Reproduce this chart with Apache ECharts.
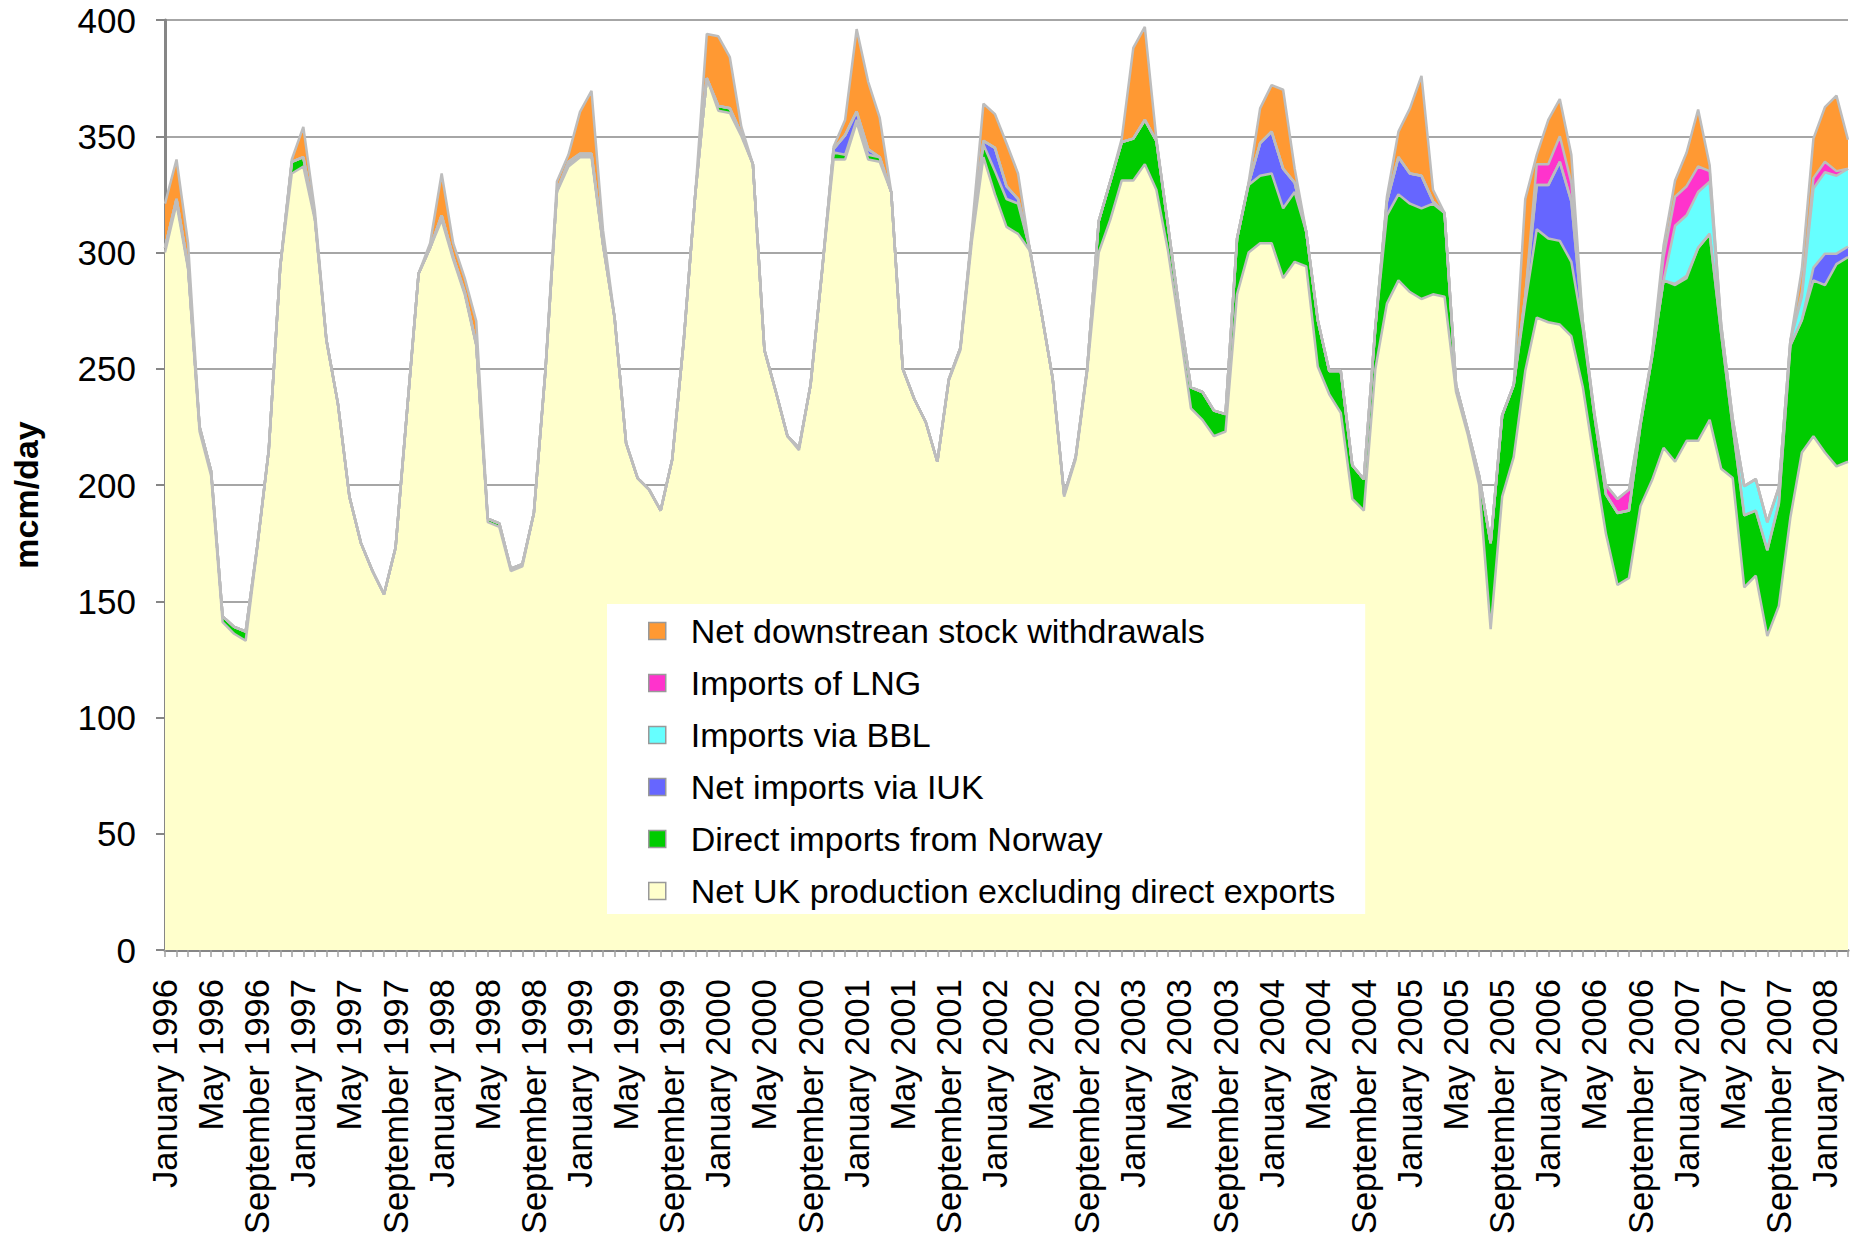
<!DOCTYPE html>
<html>
<head>
<meta charset="utf-8">
<script src="https://cdn.jsdelivr.net/npm/echarts@6/dist/echarts.min.js"></script>
<style>
html,body{margin:0;padding:0;background:#ffffff;}
#chart{width:1856px;height:1240px;}
</style>
</head>
<body>
<div id="chart"></div>
<script>
// ---- categories (monthly, January 1996 .. March 2008) ----
const monthNames = ['January','February','March','April','May','June','July','August','September','October','November','December'];
const firstYear = 1996;
const pointCount = 147;
const categories = [];
for (let i = 0; i < pointCount; i++) {
  categories.push(monthNames[i % 12] + ' ' + (firstYear + Math.floor(i / 12)));
}

// ---- y axis ticks ----
const yMin = 0, yMax = 400, yStep = 50;

// ---- series values (mcm/day) ----
const ukProduction = [
  300,321,293,223,204,141,136,133,173,215,294,334,
  337,314,262,235,195,175,163,153,173,232,291,302,
  314,297,282,260,184,182,163,165,188,249,326,337,
  341,341,303,272,218,203,198,189,211,262,325,375,
  361,360,350,338,258,240,221,215,243,292,340,340,
  356,340,339,326,250,237,227,210,245,258,305,341,
  325,311,308,301,275,246,195,211,249,300,314,331,
  331,338,327,301,268,233,228,221,223,282,300,304,
  304,289,296,294,251,239,231,194,189,250,278,288,
  283,280,282,281,240,222,200,138,195,212,249,272,
  270,269,264,242,210,179,157,160,191,202,216,210,
  219,219,228,207,203,156,161,135,148,186,214,221,
  214,208,210
];
const norway = [
  2,2,1,2,2,2.5,3,4,0.5,0,0,5,
  4,1,0.5,0,0,0,0,0,0,0,0,0,
  2,1,1,0.5,1.5,1.5,1,1,0,0,0.5,1,
  1,1,0.5,0,0,0,0,0,0,0,0,0,
  2,2,1,0,0,0,0,1,0,0,3,2,
  1,2,2,0,0,0,0,0,0.5,1,3,5.5,
  10,12,13,1,0,0,1,1,1,13.5,16.5,16.5,
  18,19,21,11,7,9,12,11,7.5,24,29,29,
  30,30,30,15,20,10,18,14.5,13.5,18,38,37,
  38,39,39,36,3,2,4,37,35,31,29,38,
  36,36,32,25,20,17,31,29,35,53,72,76,
  70,83,80,58,22,31,28,37,44,74,57,67,
  72,87,88
];
const iuk = [
  0,0,0,0,0,0,0,0,0,0,0,0,
  0,0,0,0,0,0,0,0,0,0,0,0,
  0,0,0,0,0,0,0,0,0,0,0,1,
  0.5,0.5,0,0,0,0,0,0,0,0,0,0,
  0,0,0,0,0,0,0,0,0,0,1.5,8.5,
  3.6,2.4,0,0,0,0,0,0,0,0,0,1.5,
  10,5.5,2,0,0,0,0,0,0,0,0,0,
  0,0,0,0,0,0,0,0,0,0,0.5,14,
  18,17,4,0,0,0,0,0,0,0,6,16,
  13,14,1,0,0,0,0,0,0,0,3,19,
  23,34,26,2,0,0,0,0,0,0,0,0.5,
  1,0,0,0,0,0,0,0,0,0,0,5.5,
  13.5,4.5,4.5
];
const bbl = [
  0,0,0,0,0,0,0,0,0,0,0,0,
  0,0,0,0,0,0,0,0,0,0,0,0,
  0,0,0,0,0,0,0,0,0,0,0,0,
  0,0,0,0,0,0,0,0,0,0,0,0,
  0,0,0,0,0,0,0,0,0,0,0,0,
  0,0,0,0,0,0,0,0,0,0,0,0,
  0,0,0,0,0,0,0,0,0,0,0,0,
  0,0,0,0,0,0,0,0,0,0,0,0,
  0,0,0,0,0,0,0,0,0,0,0,0,
  0,0,0,0,0,0,0,0,0,0,0,0,
  0,0,0,0,0,0,0,0,0,0,0,25,
  26,24,22.5,3,3,12.5,13.5,12,7,2,10,34,
  35,33.5,33.5
];
const lng = [
  0,0,0,0,0,0,0,0,0,0,0,0,
  0,0,0,0,0,0,0,0,0,0,0,0,
  0,0,0,0,0,0,0,0,0,0,0,0,
  0,0,0,0,0,0,0,0,0,0,0,0,
  0,0,0,0,0,0,0,0,0,0,0,0,
  0,0,0,0,0,0,0,0,0,0,0,0,
  0,0,0,0,0,0,0,0,0,0,0,0,
  0,0,0,0,0,0,0,0,0,0,0,0,
  0,0,0,0,0,0,0,0,0,0,0,0,
  0,0,0,0,0,0,0,0,0,0,0,9,
  9,11,8,1,1,4,6,9,1,1,10,12.5,
  12.5,11,4.5,1,0.5,0,0,0,0,0,2,4.5,
  4.5,2,0
];
const stock = [
  19,17,10,0,0,0,0,0,0,0,0,1,
  13,3,0,0,0,0,0,0,0,0,0,2,
  18,6,6,10,0,0,0,0,0,0,4,3,
  18,27,6,0,0,0,0,0,0,0,0,19,
  30,22,3,0,0,0,0,0,0,0,1,6.5,
  35.5,29,17,0,0,0,0,0,0,0,2,16,
  14.5,18.5,11,0,0,0,0,0,0,0,0,1.5,
  39,40,1,0,0,0,0,0,0,0,0.5,15,
  20,34,6,0,0,0,0,0,0,0,2,11,
  28,43,5,0,0,0,0,0,0,0,42,4,
  19,16,12,0,0,0,0,0,0,0,5,7,
  14.5,24.5,2.5,0,0,0,0,0,0,0,10,17,
  23.5,32.5,12.5
];

// ---- series names and colours ----
const seriesNames = [
  'Net UK production excluding direct exports',
  'Direct imports from Norway',
  'Net imports via IUK',
  'Imports via BBL',
  'Imports of LNG',
  'Net downstrean stock withdrawals'
];
const seriesColors = ['#FFFFCC','#00CC00','#6666FF','#66FFFF','#FF33CC','#FF9933'];
const seriesValues = [ukProduction, norway, iuk, bbl, lng, stock];

const FONT = '"Liberation Sans", Arial, Helvetica, sans-serif';

const chart = echarts.init(document.getElementById('chart'), null, {renderer: 'svg'});

const series = seriesNames.map((name, k) => ({
  name: name,
  type: 'line',
  stack: 'total',
  data: seriesValues[k],
  symbol: 'none',
  showSymbol: false,
  smooth: false,
  lineStyle: {color: '#BDBDBD', width: 2.5},
  itemStyle: {color: seriesColors[k], borderColor: '#999999', borderWidth: 1.5},
  areaStyle: {color: seriesColors[k], opacity: 1},
  emphasis: {disabled: true},
  z: 2
}));

chart.setOption({
  animation: false,
  backgroundColor: '#ffffff',
  grid: {left: 165, right: 8, top: 20, bottom: 290, containLabel: false},
  xAxis: {
    type: 'category',
    data: categories,
    boundaryGap: false,
    axisLine: {show: true, lineStyle: {color: '#868686', width: 3}},
    axisTick: {show: true, interval: 0, length: 7, lineStyle: {color: '#A0A0A0', width: 1.5}},
    axisLabel: {
      interval: 3,
      rotate: 90,
      margin: 29,
      fontSize: 34.5,
      fontFamily: FONT,
      color: '#000000'
    },
    splitLine: {show: false}
  },
  yAxis: {
    type: 'value',
    min: yMin,
    max: yMax,
    interval: yStep,
    axisLine: {show: true, lineStyle: {color: '#868686', width: 3}},
    axisTick: {show: true, length: 9, inside: false, lineStyle: {color: '#868686', width: 2}},
    axisLabel: {margin: 29, fontSize: 35, fontFamily: FONT, color: '#000000'},
    splitLine: {show: true, lineStyle: {color: '#A6A6A6', width: 2}}
  },
  legend: {
    orient: 'vertical',
    left: 607,
    top: 604,
    selectedMode: false,
    backgroundColor: '#ffffff',
    padding: [9, 30, 5, 41],
    itemWidth: 17,
    itemHeight: 17,
    itemGap: 16,
    icon: 'rect',
    itemStyle: {borderColor: '#999999', borderWidth: 1.5},
    data: seriesNames.slice().reverse(),
    textStyle: {fontSize: 34, fontFamily: FONT, color: '#000000', lineHeight: 36, padding: [0, 0, 0, 20]}
  },
  graphic: [{
    type: 'text',
    x: 26,
    y: 495,
    rotation: Math.PI / 2,
    style: {
      text: 'mcm/day',
      font: 'bold 34px ' + FONT,
      fill: '#000000',
      textAlign: 'center',
      textVerticalAlign: 'middle'
    }
  }],
  series: series
});
</script>
</body>
</html>
